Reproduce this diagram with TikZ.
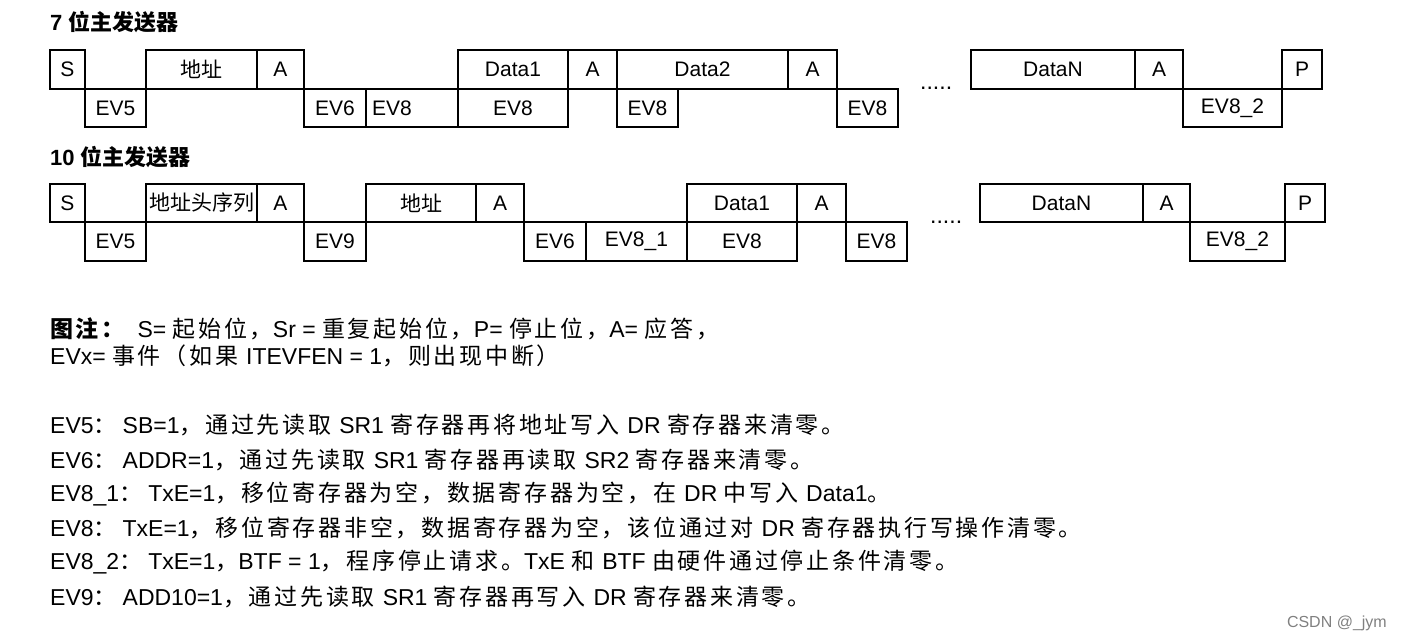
\documentclass[tikz,border=0pt]{standalone}
\usepackage{fontspec}
\setmainfont{Liberation Sans}
\newfontfamily\cjk{Noto Sans CJK SC}
\newfontfamily\cjkw[LetterSpace=12]{Noto Sans CJK SC}
\newcommand{\C}[1]{{\cjk #1}}
\newcommand{\W}[1]{{\cjkw #1}}
\newcommand{\Q}{\W{：}\hspace{6pt}}
\newcommand{\bx}[6]{%
  \pgfmathsetmacro{\w}{#3-#2}\pgfmathsetmacro{\h}{#5-#4}%
  \node[cell,minimum width=\w pt,minimum height=\h pt] (#1) at ({(#2+#3)/2},{(#4+#5)/2}) {#6};}
\begin{document}
\begin{tikzpicture}[x=1pt,y=-1pt,
  cell/.style={draw,line width=1.6pt,inner sep=0pt,font=\fontsize{21}{21}\selectfont},
  note/.style={anchor=west,inner sep=0pt,font=\fontsize{23}{26}\selectfont},
  title/.style={anchor=west,inner sep=0pt,font=\bfseries\fontsize{22}{24}\selectfont}]
\useasboundingbox (0,0) rectangle (1401,643);
\node[title] (t1) at (50,22) {7 \C{\bfseries 位主发送器}};
% row 1
\bx{a1}{50}{85}{50}{89}{S}
\bx{a2}{146}{257}{50}{89}{\C{地址}}
\bx{a3}{257}{304}{50}{89}{A}
\bx{a4}{458}{568}{50}{89}{Data1}
\bx{a5}{568}{617}{50}{89}{A}
\bx{a6}{617}{788}{50}{89}{Data2}
\bx{a7}{788}{837}{50}{89}{A}
\bx{a8}{971}{1135}{50}{89}{DataN}
\bx{a9}{1135}{1183}{50}{89}{A}
\bx{a10}{1282}{1322}{50}{89}{P}
\bx{b1}{85}{146}{89}{127}{EV5}
\bx{b2}{304}{366}{89}{127}{EV6}
\bx{b3}{366}{458}{89}{127}{\makebox[80pt][l]{EV8}}
\bx{b4}{458}{568}{89}{127}{EV8}
\bx{b5}{617}{678}{89}{127}{EV8}
\bx{b6}{837}{898}{89}{127}{EV8}
\bx{b7}{1183}{1282}{89}{127}{EV8\_2}
\node[note] (d1) at (920,88) {.....};
\node[title] (t2) at (50,157) {10 \C{\bfseries 位主发送器}};
% row 2
\bx{c1}{50}{85}{184}{222}{S}
\bx{c2}{146}{257}{184}{222}{\C{地址头序列}}
\bx{c3}{257}{304}{184}{222}{A}
\bx{c4}{366}{476}{184}{222}{\C{地址}}
\bx{c5}{476}{524}{184}{222}{A}
\bx{c6}{687}{797}{184}{222}{Data1}
\bx{c7}{797}{846}{184}{222}{A}
\bx{c8}{980}{1143}{184}{222}{DataN}
\bx{c9}{1143}{1190}{184}{222}{A}
\bx{c10}{1285}{1325}{184}{222}{P}
\bx{e1}{85}{146}{222}{261}{EV5}
\bx{e2}{304}{366}{222}{261}{EV9}
\bx{e3}{524}{586}{222}{261}{EV6}
\bx{e4}{586}{687}{222}{261}{EV8\_1}
\bx{e5}{687}{797}{222}{261}{EV8}
\bx{e6}{846}{907}{222}{261}{EV8}
\bx{e7}{1190}{1285}{222}{261}{EV8\_2}
\node[note] (d2) at (930,222) {.....};
% notes
\node[note] (n1) at (50,329) {\W{\bfseries 图注：}\ \ S= \W{起始位，}Sr = \W{重复起始位，}P= \W{停止位，}A= \W{应答，}};
\node[note] (n2) at (50,356) {EVx= \W{事件（如果 }ITEVFEN = 1\W{，则出现中断）}};
\node[note] (n3) at (50,425) {EV5\Q SB=1\W{，通过先读取 }SR1 \W{寄存器再将地址写入 }DR \W{寄存器来清零。}};
\node[note] (n4) at (50,460) {EV6\Q ADDR=1\W{，通过先读取 }SR1 \W{寄存器再读取 }SR2 \W{寄存器来清零。}};
\node[note] (n5) at (50,494) {EV8\_1\Q TxE=1\W{，移位寄存器为空，数据寄存器为空，在 }DR \W{中写入 }Data1\W{。}};
\node[note] (n6) at (50,528) {EV8\Q TxE=1\W{，移位寄存器非空，数据寄存器为空，该位通过对 }DR \W{寄存器执行写操作清零。}};
\node[note] (n7) at (50,562) {EV8\_2\Q TxE=1\W{，}BTF = 1\W{，程序停止请求。}TxE \W{和 }BTF \W{由硬件通过停止条件清零。}};
\node[note] (n8) at (50,597) {EV9\Q ADD10=1\W{，通过先读取 }SR1 \W{寄存器再写入 }DR \W{寄存器来清零。}};
\node[anchor=east,inner sep=0pt,text=gray,font=\fontsize{16}{16}\selectfont] (wm) at (1387,623) {CSDN @\_jym};
\end{tikzpicture}
\end{document}
